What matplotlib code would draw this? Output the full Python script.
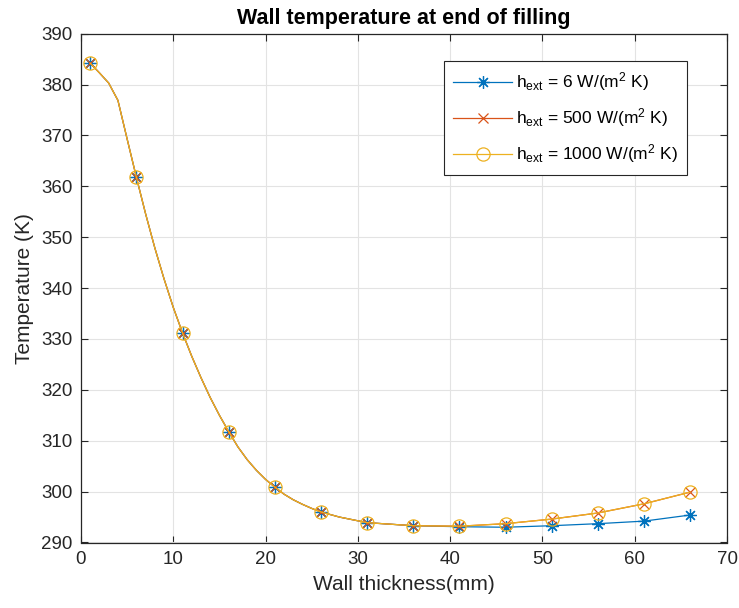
import matplotlib
matplotlib.use("Agg")
import matplotlib.pyplot as plt

plt.rcParams["font.family"] = ["Liberation Sans", "DejaVu Sans"]
plt.rcParams["mathtext.fontset"] = "custom"
plt.rcParams["mathtext.rm"] = "Liberation Sans"
plt.rcParams["mathtext.it"] = "Liberation Sans:italic"

# marker positions (every 5 mm)
thickness_marks = [1, 6, 11, 16, 21, 26, 31, 36, 41, 46, 51, 56, 61, 66]
temp_marks_6 = [384.2, 361.8, 331.2, 311.8, 300.9, 296.0, 293.9, 293.3,
                293.1, 293.0, 293.3, 293.7, 294.2, 295.4]
temp_marks_500 = [384.2, 361.8, 331.2, 311.8, 300.9, 296.0, 293.9, 293.3,
                  293.2, 293.7, 294.6, 295.8, 297.6, 299.9]
temp_marks_1000 = [384.2, 361.8, 331.2, 311.8, 300.9, 296.0, 293.9, 293.3,
                   293.2, 293.7, 294.6, 295.8, 297.6, 299.9]

# line points
thickness_line = [1, 2, 3, 4, 5, 6, 7, 8, 9, 10, 11, 12, 13, 14, 15, 16, 17,
                  18, 19, 20, 21, 22, 23, 24, 25, 26, 28, 31, 36, 41, 46, 51,
                  56, 61, 66]
temp_common = [384.2, 382.3, 380.3, 376.9, 369.3, 361.8, 354.6, 347.9, 341.8,
               336.2, 331.2, 326.6, 322.4, 318.5, 315.0, 311.8, 308.8, 306.3,
               304.2, 302.4, 300.9, 299.5, 298.4, 297.5, 296.7, 296.0, 295.0]
temp_line_6 = temp_common + [293.9, 293.3, 293.1, 293.0, 293.3, 293.7,
                             294.2, 295.4]
temp_line_500 = temp_common + [293.9, 293.3, 293.2, 293.7, 294.6, 295.8,
                               297.6, 299.9]
temp_line_1000 = temp_common + [293.9, 293.3, 293.2, 293.7, 294.6, 295.8,
                                297.6, 299.9]

labels = [r"h$_{\rm ext}$ = 6 W/(m$^2$ K)",
          r"h$_{\rm ext}$ = 500 W/(m$^2$ K)",
          r"h$_{\rm ext}$ = 1000 W/(m$^2$ K)"]
colors = ["#0072BD", "#D95319", "#EDB120"]
markers = [(8, 2, 0), "x", "o"]
msizes = [9, 6.5, 9.5]

fig = plt.figure(figsize=(7.39, 6.08), dpi=100)
ax = fig.add_axes([81 / 739, 1 - 542.5 / 608, 646 / 739, 508.8 / 608])

series = [(temp_line_6, temp_marks_6),
          (temp_line_500, temp_marks_500),
          (temp_line_1000, temp_marks_1000)]
for (line_y, mark_y), col, mk, ms, lab in zip(series, colors, markers, msizes,
                                               labels):
    ax.plot(thickness_line, line_y, color=col, linewidth=0.9)
    ax.plot(thickness_marks, mark_y, linestyle="none", marker=mk,
            markersize=ms, markerfacecolor="none", markeredgecolor=col,
            markeredgewidth=0.9)
    # legend proxy
    ax.plot([], [], color=col, linewidth=0.9, marker=mk, markersize=ms,
            markerfacecolor="none", markeredgecolor=col,
            markeredgewidth=0.9, label=lab)

ax.set_xlim(0, 70)
ax.set_ylim(290, 390)
ax.set_xticks(range(0, 71, 10))
ax.set_yticks(range(290, 391, 10))
ax.grid(True, color="#e3e3e3", linewidth=0.8)
ax.set_axisbelow(True)
ax.tick_params(direction="in", length=5, width=0.8, colors="#262626",
               labelsize=13.5, top=True, right=True, pad=6)
for sp in ax.spines.values():
    sp.set_color("#262626")
    sp.set_linewidth(0.9)

ax.set_xlabel("Wall thickness(mm)", fontsize=15, color="#262626", labelpad=5)
ax.set_ylabel("Temperature (K)", fontsize=15, color="#262626", labelpad=5)
ax.set_title("Wall temperature at end of filling", fontsize=15.5,
             fontweight="bold", pad=7)

leg = ax.legend(loc="upper right", bbox_to_anchor=(687.3 / 739, 1 - 61 / 608),
                bbox_transform=fig.transFigure, borderaxespad=0,
                fancybox=False, edgecolor="#262626", framealpha=1,
                fontsize=12.5, handlelength=3.4, handletextpad=0.2,
                labelspacing=0.75, borderpad=0.55)
leg.get_frame().set_linewidth(0.8)

fig.savefig("out.png", dpi=100)
